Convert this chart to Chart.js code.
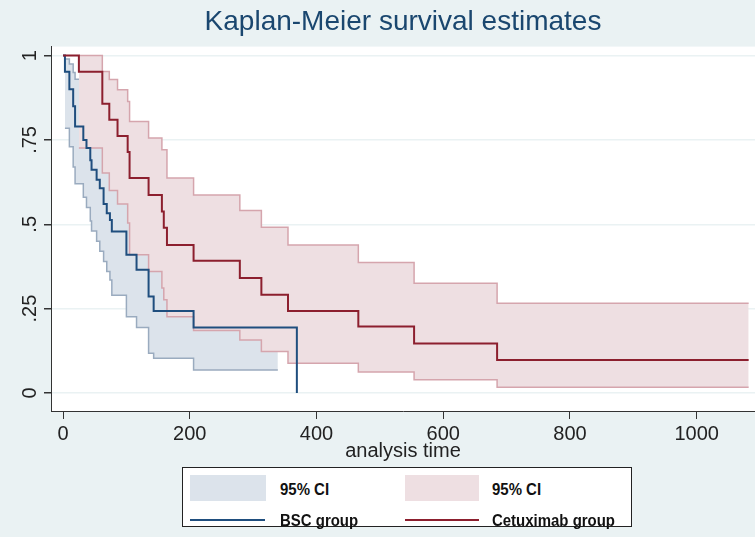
<!DOCTYPE html>
<html>
<head>
<meta charset="utf-8">
<title>Kaplan-Meier survival estimates</title>
<script src="https://cdn.jsdelivr.net/npm/chart.js@4.4.1/dist/chart.umd.min.js"></script>
<style>
  html, body { margin: 0; padding: 0; background: #eaf2f3; }
  #wrap { position: relative; width: 755px; height: 537px; }
  #legend {
    position: absolute; left: 182px; top: 467px; width: 448px; height: 58px;
    background: #fff; border: 1px solid #222;
    font-family: 'Liberation Sans', Arial, sans-serif;
    font-size: 17px; font-weight: bold; color: #111;
  }
  .sw { position: absolute; }
  .lbl {
    position: absolute; line-height: 1; white-space: nowrap;
    transform-origin: 0 50%; transform: translateY(-50%) scaleX(0.88);
  }
</style>
</head>
<body>
<div id="wrap">
  <canvas id="km" width="755" height="537"></canvas>
  <div id="legend">
    <div class="sw" style="left:7px; top:7px; width:76px; height:26px; background:#dce3eb;"></div>
    <div class="lbl" style="left:97px; top:21px;">95% CI</div>
    <div class="sw" style="left:222px; top:7px; width:74px; height:26px; background:#eedfe2;"></div>
    <div class="lbl" style="left:309px; top:21px;">95% CI</div>
    <div class="sw" style="left:7px; top:51px; width:75px; height:1.5px; background:#1f4e7e;"></div>
    <div class="lbl" style="left:97px; top:52px;">BSC group</div>
    <div class="sw" style="left:222px; top:51px; width:74px; height:1.5px; background:#8c1f2e;"></div>
    <div class="lbl" style="left:309px; top:52px;">Cetuximab group</div>
  </div>
</div>
<script>
// axis ticks
const xTicks = [0, 200, 400, 600, 800, 1000];
const yTicks = [0, 0.25, 0.5, 0.75, 1];
const yTickText = ['0', '.25', '.5', '.75', '1'];

// BSC group (KM estimate + 95% CI)
const bscTime = [0, 3, 10, 16, 19, 32, 37, 43, 45, 53, 58, 64, 69, 74, 77, 100, 116, 135, 143, 206, 369];
const bscSurv = [1, .952, .9, .85, .79, .75, .726, .69, .662, .632, .607, .56, .533, .513, .479, .41, .365, .286, .243, .194, 0];
const bscCiTime = [3, 10, 16, 19, 32, 37, 43, 45, 53, 58, 64, 69, 74, 77, 100, 116, 135, 143, 206, 339];
const bscCiLow = [.785, .73, .67, .62, .58, .55, .51, .48, .45, .42, .39, .36, .335, .29, .226, .194, .118, .103, .068, .068];
const bscCiHigh = [.99, .975, .95, .93, .9, .88, .86, .84, .82, .8, .77, .75, .73, .7, .65, .6, .52, .46, .4, .4];

// Cetuximab group
const cetTime = [0, 25, 62, 73, 86, 102, 105, 135, 156, 159, 164, 206, 279, 313, 355, 466, 554, 685, 1082];
const cetSurv = [1, .952, .857, .81, .762, .714, .637, .587, .538, .49, .439, .392, .341, .291, .243, .197, .147, .098, .098];
const cetCiTime = [25, 62, 73, 86, 102, 105, 135, 156, 159, 164, 206, 279, 313, 355, 466, 554, 685, 1082];
const cetCiHigh = [1, .953, .929, .899, .864, .805, .756, .721, .721, .637, .587, .541, .491, .439, .387, .325, .266, .266];
const cetCiLow = [.726, .652, .6, .56, .504, .41, .36, .311, .276, .226, .185, .157, .123, .088, .062, .039, .017, .017];

const blueFill = '#dce3eb', blueEdge = '#9aabbf', blueLine = '#1f4e7e';
const pinkFill = '#eedfe2', pinkEdge = '#d5a5ad', redLine = '#8c1f2e';
const axisFont = { family: "'Liberation Sans', Arial, sans-serif", size: 20 };

function pts(xs, ys) {
  return xs.map((x, i) => ({ x: x, y: ys[i] }));
}

const bgPlugin = {
  id: 'bg',
  beforeDraw(chart) {
    const { ctx, chartArea: a } = chart;
    ctx.save();
    ctx.fillStyle = '#eaf2f3';
    ctx.fillRect(0, 0, chart.width, chart.height);
    ctx.fillStyle = '#fff';
    ctx.fillRect(a.left, a.top, a.right - a.left, a.bottom - a.top);
    ctx.restore();
  }
};

const stepLine = { stepped: true, pointRadius: 0, tension: 0 };

new Chart(document.getElementById('km'), {
  type: 'line',
  data: {
    datasets: [
      Object.assign({ label: 'BSC upper', data: pts(bscCiTime, bscCiHigh), borderColor: blueEdge, borderWidth: 1.5, backgroundColor: blueFill, fill: 1, order: 6 }, stepLine),
      Object.assign({ label: 'BSC lower', data: pts(bscCiTime, bscCiLow), borderColor: blueEdge, borderWidth: 1.5, fill: false, order: 5 }, stepLine),
      Object.assign({ label: 'Cet upper', data: pts(cetCiTime, cetCiHigh), borderColor: pinkEdge, borderWidth: 1.5, backgroundColor: pinkFill, fill: 3, order: 4 }, stepLine),
      Object.assign({ label: 'Cet lower', data: pts(cetCiTime, cetCiLow), borderColor: pinkEdge, borderWidth: 1.5, fill: false, order: 3 }, stepLine),
      Object.assign({ label: 'BSC group', data: pts(bscTime, bscSurv), borderColor: blueLine, borderWidth: 2, fill: false, order: 2 }, stepLine),
      Object.assign({ label: 'Cetuximab group', data: pts(cetTime, cetSurv), borderColor: redLine, borderWidth: 2, fill: false, order: 1 }, stepLine)
    ]
  },
  options: {
    responsive: false,
    animation: false,
    devicePixelRatio: 1,
    layout: { padding: { left: 0, right: 0, top: 0, bottom: 74 } },
    plugins: {
      legend: { display: false },
      tooltip: { enabled: false },
      title: {
        display: true,
        text: 'Kaplan-Meier survival estimates',
        fullSize: false,
        color: '#1a476f',
        font: { family: "'Liberation Sans', Arial, sans-serif", size: 28, weight: 'normal' },
        padding: { top: 5, bottom: 8 }
      }
    },
    scales: {
      x: {
        type: 'linear',
        min: -19,
        max: 1092,
        afterBuildTicks: s => { s.ticks = xTicks.map(v => ({ value: v })); },
        afterFit: s => { s.height = 52; },
        border: { display: true, color: '#333', width: 1 },
        grid: { drawOnChartArea: false, drawTicks: true, tickLength: 8, color: '#333' },
        ticks: { font: axisFont, color: '#222', padding: 3, maxRotation: 0, autoSkip: false, callback: v => String(v) },
        title: { display: true, text: 'analysis time', font: axisFont, color: '#222', padding: 0 }
      },
      y: {
        type: 'linear',
        min: -0.0534,
        max: 1.0267,
        afterBuildTicks: s => { s.ticks = yTicks.map(v => ({ value: v })); },
        afterFit: s => { s.width = 51; },
        border: { display: true, color: '#333', width: 1 },
        grid: { color: '#eaf2f3', lineWidth: 1.5, tickColor: '#333', tickLength: 7 },
        ticks: {
          font: axisFont, color: '#222', minRotation: 90, maxRotation: 90, crossAlign: 'center', padding: 0,
          callback: v => yTickText[yTicks.indexOf(v)]
        }
      }
    }
  },
  plugins: [bgPlugin]
});
</script>
</body>
</html>
